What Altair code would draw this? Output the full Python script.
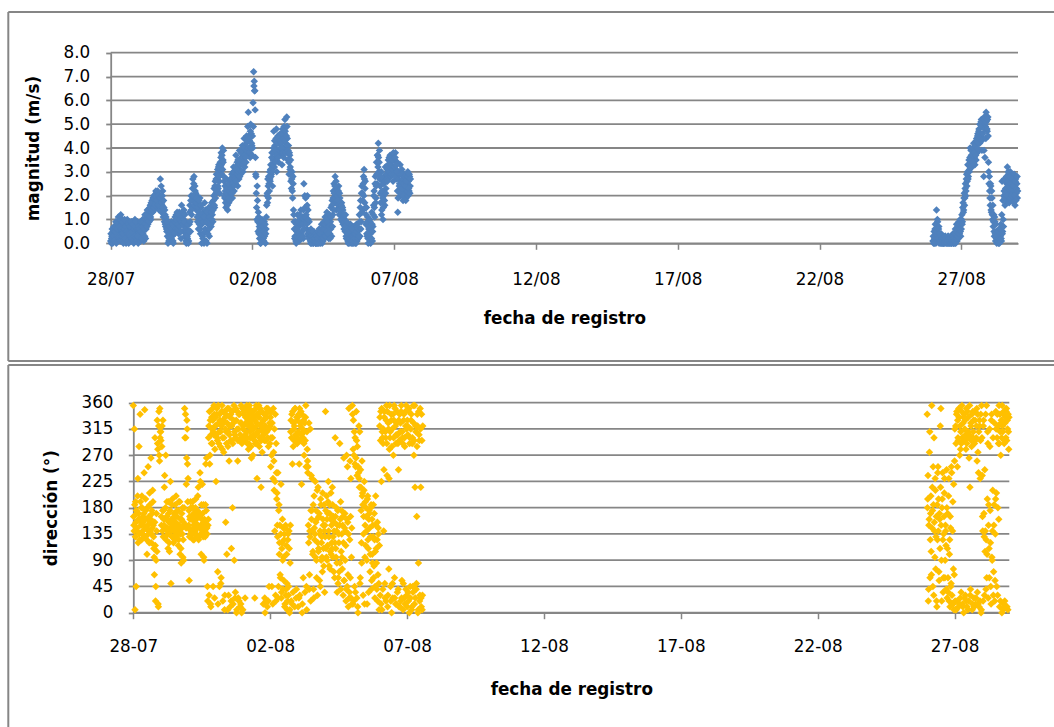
import altair as alt
import pandas as pd

# ---- wind magnitude (m/s), readings on the hour and half hour, one list per day ----
mag_0728 = [0.1,0.0,0.3,0.2,0.5,0.1, 0.4,0.7,0.2,0.6,0.3,0.8, 0.5,1.1,0.2,0.9,0.4,1.2, 0.7,0.1,1.0,0.5,0.8,0.2,
            0.9,0.4,0.0,0.7,1.0,0.3, 0.6,0.9,0.2,0.8,0.1,0.5, 0.9,0.3,0.7,0.0,0.6,1.0, 0.4,0.8,0.2,0.9,0.5,0.1]
mag_0729 = [0.3,0.8,0.1,0.6,0.9,0.4, 1.0,0.5,0.1,0.7,1.2,0.2, 0.6,1.1,1.4,0.8,1.3,0.9, 1.2,1.6,1.0,1.5,1.8,1.3,
            1.7,2.0,1.4,1.9,1.6,2.1, 1.5,1.9,2.1,1.7,1.4,2.0, 2.7,1.8,1.3,1.6,2.2,1.1, 1.5,0.9,1.2,0.7,1.0,0.5]
mag_0730 = [0.3,0.0,0.6,0.2,0.8,0.1, 0.5,0.9,0.3,0.7,0.0,0.4, 0.8,1.1,0.5,1.2,0.9,0.6, 1.0,0.4,1.3,0.8,1.1,0.2,
            1.6,0.9,1.2,0.5,1.4,0.7, 0.3,0.9,0.0,0.6,0.2,0.4, 0.1,0.8,1.6,0.5,2.0,1.2, 1.8,2.7,1.5,2.8,1.9,2.2]
mag_0731 = [2.1,1.4,2.0,0.9,1.6,1.2, 0.8,1.9,0.4,1.5,0.0,1.1, 0.2,1.3,0.0,1.7,0.6,1.0, 0.5,0.0,1.2,0.8,1.5,0.3,
            1.0,1.4,0.7,1.7,1.2,0.9, 1.8,2.3,1.5,2.6,2.1,2.9, 2.7,3.1,2.3,3.3,2.6,3.0, 3.2,3.8,2.9,4.0,3.5,3.9]
mag_0801 = [2.6,1.9,2.2,1.5,2.7,1.8, 1.4,2.1,1.7,2.4,2.0,2.6, 2.3,2.9,1.9,2.6,3.2,2.2, 3.0,2.5,3.7,2.8,3.4,2.4,
            3.3,2.7,3.9,3.1,2.9,3.6, 3.5,4.1,3.0,3.8,4.4,3.2, 4.0,3.4,4.5,3.7,4.9,5.5, 3.9,4.3,3.6,5.0,4.6,4.1]
mag_0802 = [4.5,5.9,7.2,6.8,6.4,3.6, 2.8,1.5,2.4,0.9,1.3,0.4, 0.2,0.8,0.0,0.5,1.0,0.3, 0.7,0.1,0.9,0.4,0.0,0.6,
            1.6,2.1,2.7,1.9,2.5,3.0, 2.6,3.3,2.9,3.8,2.4,3.5, 4.7,3.2,4.1,3.6,4.4,3.0, 3.9,4.5,3.4,4.2,3.7,4.6]
mag_0803 = [3.8,4.4,3.3,4.8,4.0,3.6, 4.6,5.2,4.2,3.9,5.3,4.4, 3.5,4.1,2.9,3.7,3.2,2.6, 2.3,3.0,1.9,2.5,1.2,0.6,
            0.3,0.9,0.0,0.5,1.2,0.2, 0.7,0.1,1.0,0.4,1.4,0.8, 0.5,1.1,0.2,2.5,0.9,1.5, 1.9,1.2,0.6,2.0,1.4,0.3]
mag_0804 = [0.9,0.4,0.1,0.6,0.0,0.3, 0.2,0.0,0.5,0.1,0.3,0.0, 0.0,0.4,0.1,0.0,0.2,0.6, 0.1,0.0,0.3,0.8,0.0,0.2,
            0.5,0.9,0.2,1.1,0.4,0.7, 1.3,0.6,1.0,0.2,0.8,0.4, 0.9,1.5,0.3,1.8,1.2,2.2, 2.5,1.7,2.8,2.0,1.4,2.3]
mag_0805 = [2.0,1.6,2.4,1.2,1.9,1.5, 1.3,1.7,0.9,1.4,1.1,0.6, 1.0,0.5,0.8,0.2,0.7,0.4, 0.0,0.3,0.6,0.1,0.8,0.0,
            0.4,0.0,0.2,0.7,0.1,0.5, 0.0,0.3,0.8,0.1,0.5,0.2, 0.6,1.2,0.3,1.8,0.9,2.4, 2.1,1.4,2.8,3.1,1.7,2.6]
mag_0806 = [0.8,1.5,0.3,1.1,0.0,0.6, 0.2,0.9,0.0,0.5,1.3,0.1, 0.7,1.6,2.2,1.1,2.8,1.9, 3.4,2.5,3.7,4.2,3.0,3.9,
            2.4,1.7,3.0,1.4,2.6,1.0, 2.0,2.8,1.6,3.2,2.3,2.9, 3.1,2.7,3.5,2.9,3.3,3.7, 2.8,3.4,3.0,3.6,2.6,3.2]
mag_0807 = [3.5,2.9,3.8,3.1,2.7,3.4, 1.3,2.2,3.0,2.5,3.3,2.0, 2.6,3.1,2.2,1.8,2.9,2.4, 2.1,2.7,1.9,2.5,2.3,3.0,
            2.6,2.2,2.8,2.4]
mag_0826 = [0.1,0.0,0.5,0.2,0.8,0.0, 1.4,0.6,0.9,0.3,0.7,0.1, 0.2,0.0,0.4,0.1,0.0,0.3, 0.0,0.2,0.1,0.3,0.0,0.1,
            0.2,0.0,0.3,0.1,0.0,0.2, 0.1,0.3,0.0,0.2,0.4,0.0, 0.3,0.0,0.6,0.2,0.8,0.1, 0.5,0.2,0.9,0.4,1.0,0.3]
mag_0827 = [0.6,1.2,0.9,1.7,1.4,2.1, 1.9,2.5,2.2,2.9,2.6,3.3, 2.8,3.5,3.1,4.0,3.4,3.7, 3.2,3.9,3.5,4.2,3.6,3.3,
            4.1,3.5,4.4,3.8,4.6,3.9, 4.8,4.2,5.0,4.5,5.2,3.9, 5.1,4.4,2.8,5.3,3.6,4.9, 5.5,5.2,4.7,5.3,3.4,2.5]
mag_0828 = [2.2,1.6,2.4,1.3,1.9,1.0, 0.7,1.2,0.3,0.9,0.1,0.5, 0.0,0.4,0.2,0.0,0.6,0.1, 0.3,0.8,0.1,2.6,0.5,1.0,
            2.0,2.7,1.6,2.3,1.8,2.5, 3.2,2.1,2.9,1.7,2.4,3.0, 1.8,2.6,2.2,1.9,2.8,2.0, 2.4,1.6,2.7,2.1,2.5,1.9]

# ---- wind magnitude (m/s), readings at quarter past / quarter to ----
magq_0728 = [0.4,0.2,0.6,0.0,0.3,0.7, 0.1,0.5,0.9,0.0,0.6,0.3, 0.8,0.3,0.7,1.0,0.1,0.6, 0.3,0.9,0.4,0.0,0.6,1.0,
             0.2,0.7,0.5,0.1,0.4,0.8, 0.0,0.4,0.7,0.3,0.9,0.2, 0.5,0.8,0.1,0.6,0.3,0.7, 0.9,0.1,0.6,0.3,0.0,0.7]
magq_0729 = [0.6,0.1,0.5,0.9,0.2,0.7, 0.4,0.9,0.6,0.3,0.8,1.0, 1.2,0.7,1.0,1.4,0.9,1.1, 1.5,1.1,1.7,1.3,1.4,1.9,
             1.9,1.5,2.0,1.6,2.2,1.7, 1.8,2.2,1.6,2.0,1.9,1.6, 1.9,2.4,1.7,2.0,1.5,1.8, 1.2,1.4,0.8,1.1,0.6,0.9]
magq_0730 = [0.6,0.3,0.1,0.7,0.4,0.5, 0.2,0.6,0.8,0.1,0.5,0.7, 0.4,0.9,1.0,0.6,1.3,0.8, 0.6,1.2,0.7,1.0,0.5,0.9,
             1.1,1.3,0.8,1.0,0.9,1.2, 0.6,0.1,0.5,0.3,0.8,0.0, 0.5,1.3,0.9,1.8,1.4,2.0, 2.3,2.0,2.5,1.6,2.4,1.7]
magq_0731 = [1.7,1.9,1.1,1.5,0.6,1.8, 1.3,0.6,1.6,1.0,0.8,0.3, 0.9,0.4,1.1,0.5,1.4,0.1, 0.9,1.3,0.4,1.0,0.6,1.1,
             1.5,0.8,1.3,1.0,1.6,1.4, 2.0,1.6,2.4,1.9,2.7,2.2, 2.9,2.4,3.2,2.8,2.1,3.4, 3.6,3.3,3.7,3.1,3.4,2.8]
magq_0801 = [2.0,2.4,1.7,2.1,2.3,1.6, 1.9,2.5,2.2,1.8,2.7,2.3, 2.7,2.1,2.5,3.0,2.4,2.8, 2.7,3.2,2.6,3.1,2.9,3.5,
             3.0,3.5,2.8,3.3,3.8,3.0, 3.9,3.3,3.6,4.0,3.4,3.7, 3.6,4.2,3.9,4.3,4.0,4.5, 4.4,3.8,4.7,4.0,4.2,3.7]
magq_0802 = [4.0,4.9,6.6,6.4,5.6,2.9, 2.1,1.0,1.8,0.5,1.1,0.7, 0.6,0.0,0.4,0.9,0.2,0.7, 0.2,0.5,0.3,0.8,0.4,1.1,
             2.0,1.7,2.4,2.8,2.2,2.7, 3.1,2.8,3.6,3.0,3.3,4.0, 3.8,4.3,3.4,3.9,4.8,3.7, 4.2,3.6,4.4,3.9,4.3,4.0]
magq_0803 = [4.2,4.0,4.6,3.8,4.4,4.9, 4.3,4.7,3.8,4.5,4.9,4.1, 3.9,3.4,3.8,3.1,3.5,2.9, 2.7,2.2,2.8,1.4,0.9,0.2,
             0.6,0.1,0.8,0.3,0.6,0.9, 0.4,1.2,0.3,0.8,0.2,1.1, 0.8,0.3,1.4,0.6,2.0,1.1, 1.5,0.8,1.6,0.4,1.0,0.2]
magq_0804 = [0.5,0.2,0.0,0.3,0.1,0.5, 0.0,0.3,0.1,0.2,0.0,0.4, 0.3,0.0,0.2,0.5,0.0,0.3, 0.4,0.1,0.5,0.2,0.6,0.1,
             0.2,0.6,0.8,0.3,0.9,0.5, 0.9,1.1,0.4,0.7,1.2,0.2, 0.6,1.1,1.6,0.7,1.9,1.4, 2.1,2.4,1.9,2.6,1.8,2.0]
magq_0805 = [1.8,2.2,1.4,2.1,1.7,1.0, 1.6,1.0,1.5,0.8,1.2,0.9, 0.7,1.2,0.3,0.9,0.5,0.1, 0.4,0.0,0.2,0.5,0.1,0.3,
             0.1,0.6,0.3,0.0,0.4,0.2, 0.4,0.0,0.5,0.7,0.2,0.6, 0.3,0.9,1.5,0.6,2.1,1.3, 1.8,2.5,2.0,2.7,2.3,1.5]
magq_0806 = [1.2,0.4,0.9,0.2,0.7,0.3, 1.0,0.4,0.7,0.2,0.8,0.5, 1.2,2.0,1.5,2.5,1.7,2.4, 2.9,3.7,3.2,3.6,3.4,2.7,
             2.1,2.8,1.2,2.2,1.9,1.5, 2.5,1.8,2.6,2.1,2.9,2.7, 2.6,3.3,3.0,3.6,3.2,2.8, 3.3,2.9,3.5,3.1,3.8,2.9]
magq_0807 = [3.2,3.6,2.8,3.3,3.0,2.2, 1.9,2.7,2.4,2.9,2.1,2.6, 2.9,2.3,2.7,2.0,2.5,2.8, 2.4,1.8,2.6,2.2,2.8,2.0,
             2.3,2.9,2.1,2.7]
magq_0826 = [0.3,0.1,0.0,0.6,0.2,0.4, 0.5,1.0,0.2,0.6,0.0,0.4, 0.1,0.3,0.0,0.2,0.1,0.0, 0.2,0.0,0.3,0.1,0.2,0.0,
             0.1,0.3,0.0,0.2,0.1,0.0, 0.2,0.0,0.1,0.3,0.0,0.2, 0.1,0.4,0.0,0.5,0.2,0.3, 0.7,0.4,0.6,0.8,0.5,0.9]
magq_0827 = [1.0,0.8,1.5,1.3,1.9,1.6, 2.3,2.0,2.7,2.4,3.0,2.7, 3.3,3.0,3.6,3.2,3.9,3.5, 3.7,3.4,4.0,3.3,3.8,4.1,
             3.7,4.3,4.0,4.5,4.2,4.7, 4.4,5.0,4.6,5.1,4.3,4.9, 4.6,5.2,3.9,4.8,5.0,4.4, 5.1,4.8,5.2,4.5,3.0,2.8]
magq_0828 = [1.9,2.5,1.4,2.2,1.2,1.6, 0.9,0.5,1.1,0.4,0.8,0.2, 0.3,0.1,0.5,0.2,0.0,0.4, 0.6,0.2,1.2,0.4,1.8,0.7,
             2.2,1.9,2.6,2.1,2.8,2.0, 2.6,3.0,2.3,2.8,1.9,2.5, 2.3,2.0,2.7,2.4,1.7,2.9, 2.0,2.6,1.8,2.3,2.8,2.2]

# ---- wind direction (degrees), readings on the hour and half hour ----
dir_0728 = [355,150,315,5,190,45, 170,140,230,160,285,125, 340,155,180,200,135,165, 150,240,348,130,175,145,
            100,160,250,140,120,185, 155,265,135,170,210,150, 110,65,300,20,90,140, 330,280,10,345,260,300]
dir_0729 = [310,165,285,140,330,175, 150,235,130,270,160,190, 145,110,170,120,155,225, 50,140,185,160,130,150,
            165,125,145,200,135,175, 150,115,190,140,100,160, 85,170,135,95,155,180, 350,150,300,220,330,255]
dir_0730 = [230,150,55,165,135,180, 140,160,190,125,170,145, 155,180,135,165,145,200, 215,130,170,240,150,100,
            160,220,140,185,90,155, 130,255,175,145,45,150, 300,30,255,330,10,290, 315,350,45,305,340,280]
dir_0731 = [320,225,340,300,70,355, 290,45,330,310,60,345, 280,20,325,300,5,335, 155,310,100,350,285,30,
            260,320,10,340,110,295, 180,15,330,90,305,35, 350,0,315,260,25,340, 295,10,325,355,0,300]
dir_0801 = [5,320,345,300,25,335, 310,355,290,330,280,350, 340,300,325,265,315,345, 270,305,335,25,290,350,
            320,230,340,310,355,285, 300,345,215,325,275,310, 15,330,295,0,340,20, 310,10,350,285,45,325]
dir_0802 = [320,250,345,45,300,230, 275,210,140,340,20,240, 205,130,25,175,100,150, 60,220,35,120,90,145,
            55,135,15,150,40,100, 5,125,30,140,0,85, 310,20,340,255,35,325, 295,10,350,300,40,330]
dir_0803 = [300,10,340,255,30,320, 345,220,0,315,60,290, 310,35,335,250,5,280, 240,150,325,65,130,20,
            235,175,140,105,40,200, 125,225,155,90,160,30, 215,110,170,135,45,185, 120,95,205,150,80,140]
dir_0804 = [150,345,110,200,90,170, 225,130,185,75,160,100, 120,215,95,165,140,60, 300,110,180,85,150,50,
            135,70,290,160,40,175, 95,150,30,265,55,170, 140,20,270,45,155,10, 350,35,260,165,25,145]
dir_0805 = [355,15,330,270,45,300, 250,345,25,285,0,240, 230,310,60,215,120,260, 205,30,165,225,95,190,
            180,140,15,200,110,160, 170,70,130,185,55,100, 150,185,80,125,45,200, 110,40,155,65,135,5]
dir_0806 = [320,30,345,225,5,300, 290,140,335,50,310,20, 355,235,10,325,75,280, 300,45,340,0,315,25,
            270,330,60,350,15,305, 325,35,290,245,10,340, 310,20,355,55,300,5, 330,25,285,345,40,315]
dir_0807 = [10,320,35,345,0,300, 25,330,5,290,45,355, 270,15,215,320,40,165, 340,0,85,305,20,350,
            215,10,295,30]
dir_0826 = [340,195,20,150,275,60, 170,105,355,215,45,185, 300,140,230,75,165,10, 125,250,195,55,160,320,
            350,90,180,240,35,135, 205,60,150,115,245,25, 170,35,230,100,10,145, 50,240,15,190,75,5]
dir_0827 = [260,20,320,5,345,250, 300,10,335,270,25,310, 290,355,15,325,0,340, 315,30,280,350,10,300,
            335,20,305,215,40,320, 285,5,345,310,25,290, 330,15,300,350,35,275, 240,10,320,230,340,5]
dir_0828 = [300,165,20,330,130,245, 140,40,355,100,310,25, 185,60,285,120,15,340, 90,210,30,150,325,55,
            195,315,45,340,180,290, 355,10,310,270,330,0, 320,5,345,290,20,335, 300,350,10,315,340,280]

# ---- wind direction (degrees), readings at quarter past / quarter to ----
dirq_0728 = [165,140,185,130,155,175, 145,200,120,170,135,160, 190,150,125,180,140,155, 170,130,160,195,145,125,
             180,150,135,165,205,140, 160,120,175,145,190,130, 95,155,115,45,170,105, 290,15,320,270,350,310]
dirq_0729 = [295,150,320,175,130,160, 215,145,180,125,165,140, 135,190,155,105,175,145, 160,130,195,150,120,170,
             140,185,155,130,165,145, 175,125,150,190,135,110, 160,145,180,125,90,150, 300,340,145,265,315,190]
dirq_0730 = [145,175,130,160,190,140, 165,135,180,150,125,170, 140,195,160,130,175,150, 125,165,145,225,135,185,
             150,170,130,95,160,140, 185,145,265,135,20,160, 320,345,270,15,305,335, 290,330,310,355,25,320]
dirq_0731 = [335,305,350,295,15,325, 310,340,285,50,320,355, 300,330,275,345,30,315, 340,290,325,5,310,350,
             305,335,295,20,320,345, 290,325,355,310,25,300, 330,5,345,295,315,20, 340,305,15,325,290,350]
dirq_0801 = [315,340,295,350,305,325, 335,300,345,320,290,355, 310,330,285,340,320,300, 345,315,295,330,305,355,
             325,290,340,310,335,300, 350,320,295,345,315,330, 305,340,25,320,295,350, 335,300,20,315,345,290]
dirq_0802 = [335,300,270,325,15,350, 260,315,225,30,290,195, 150,240,45,185,120,65, 135,25,110,160,40,95,
             125,10,145,30,115,50, 20,135,45,110,5,150, 330,300,15,345,285,315, 320,350,305,25,335,290]
dirq_0803 = [335,310,25,350,295,325, 305,340,15,300,330,270, 325,295,355,45,310,260, 250,120,40,140,315,175,
             160,230,100,185,25,145, 135,95,175,60,210,120, 105,165,55,140,195,90, 130,70,160,110,185,35]
dirq_0804 = [130,175,95,160,115,190, 140,80,170,105,205,150, 110,185,130,70,155,120, 165,95,140,35,175,60,
             120,150,85,190,105,135, 75,165,120,55,145,90, 115,40,160,250,65,135, 25,125,60,230,95,15]
dirq_0805 = [340,280,20,310,255,35, 265,295,235,10,250,320, 215,50,245,175,85,200, 185,135,210,15,150,115,
             165,90,195,125,35,175, 145,100,180,40,160,85, 130,60,170,25,105,150, 85,125,20,145,50,115]
dirq_0806 = [335,295,15,350,310,40, 315,245,345,25,300,330, 290,345,30,315,230,355, 310,20,330,285,50,340,
             300,355,25,320,290,15, 345,305,40,330,295,10, 325,345,25,310,290,50, 340,300,15,320,355,30]
dirq_0807 = [330,305,20,350,290,45, 315,340,10,300,35,325, 295,355,25,310,50,285, 320,5,345,295,30,315,
             25,340,5,320]
dirq_0826 = [180,235,40,160,310,125, 200,65,145,175,250,30, 155,95,210,130,20,185, 240,140,70,170,110,215,
             150,20,195,125,60,165, 230,90,140,40,180,110, 60,200,20,125,165,45, 250,30,140,15,220,65]
dirq_0827 = [315,5,290,340,20,330, 295,350,15,320,280,35, 345,300,10,335,295,25, 330,305,20,290,345,5,
             310,265,355,30,325,295, 340,15,300,330,10,345, 295,25,320,260,340,15, 310,330,20,295,0,355]
dirq_0828 = [235,140,320,170,30,105, 340,125,60,195,290,150, 110,315,175,45,330,95, 140,300,70,185,20,135,
             345,205,300,30,320,160, 290,340,20,325,300,355, 310,340,15,295,325,10, 345,295,330,5,310,335]

# start of each recording run (UTC)
run1_start = "2013-07-28 00:00"
run2_start = "2013-08-26 00:00"

mag_ticks = [0, 1, 2, 3, 4, 5, 6, 7, 8]
dir_ticks = [0, 45, 90, 135, 180, 225, 270, 315, 360]
date_ticks = [(7, 28), (8, 2), (8, 7), (8, 12), (8, 17), (8, 22), (8, 27)]

BLUE = "#4F81BD"
GOLD = "#FFC000"
GRID = "#868686"
FONT = "DejaVu Sans"

# page geometry (pixels)
W, H = 1054, 727
TOP_X = [110.7, 1018.0]
TOP_Y = [243.3, 52.7]
BOT_X = [133.3, 1009.3]
BOT_Y = [612.7, 402.7]


def run_frame(start, days, minute_shift=0):
    values = [v for day in days for v in day]
    t0 = pd.Timestamp(start, tz="UTC") + pd.Timedelta(minutes=minute_shift)
    stamps = [(t0 + pd.Timedelta(minutes=30 * i)).strftime("%Y-%m-%dT%H:%M:%SZ")
              for i in range(len(values))]
    return pd.DataFrame({"fecha": stamps, "valor": values})


mag_df = pd.concat([
    run_frame(run1_start, [mag_0728, mag_0729, mag_0730, mag_0731, mag_0801, mag_0802,
                           mag_0803, mag_0804, mag_0805, mag_0806, mag_0807]),
    run_frame(run1_start, [magq_0728, magq_0729, magq_0730, magq_0731, magq_0801, magq_0802,
                           magq_0803, magq_0804, magq_0805, magq_0806, magq_0807], 15),
    run_frame(run2_start, [mag_0826, mag_0827, mag_0828]),
    run_frame(run2_start, [magq_0826, magq_0827, magq_0828], 15),
], ignore_index=True)

dir_df = pd.concat([
    run_frame(run1_start, [dir_0728, dir_0729, dir_0730, dir_0731, dir_0801, dir_0802,
                           dir_0803, dir_0804, dir_0805, dir_0806, dir_0807]),
    run_frame(run1_start, [dirq_0728, dirq_0729, dirq_0730, dirq_0731, dirq_0801, dirq_0802,
                           dirq_0803, dirq_0804, dirq_0805, dirq_0806, dirq_0807], 15),
    run_frame(run2_start, [dir_0826, dir_0827, dir_0828]),
    run_frame(run2_start, [dirq_0826, dirq_0827, dirq_0828], 15),
], ignore_index=True)

x_domain = [alt.DateTime(year=2013, month=7, date=28, utc=True),
            alt.DateTime(year=2013, month=8, date=29, utc=True)]
x_values = [alt.DateTime(year=2013, month=m, date=d, utc=True) for m, d in date_ticks]


def x_axis(fmt, axis_y, label_pad, title_y):
    return alt.Axis(
        orient="bottom", offset=axis_y - H,
        values=x_values, labelExpr=f"utcFormat(datum.value, '{fmt}')",
        title="fecha de registro", grid=False, labelFlush=False, labelOverlap=False,
        domainColor=GRID, domainWidth=1.8, tickColor=GRID, tickWidth=1.5, tickSize=6,
        labelFont=FONT, labelFontSize=16.8, labelColor="black", labelPadding=label_pad,
        labelAngle=0, titleFont=FONT, titleFontSize=16.8, titleFontWeight="bold",
        titleColor="black", titleY=title_y, titleBaseline="middle",
    )


def y_axis(title, ticks, fmt, axis_x, label_pad, title_x):
    return alt.Axis(
        orient="left", offset=-axis_x,
        values=ticks, format=fmt, title=title, grid=False,
        domainColor=GRID, domainWidth=1.8, tickColor=GRID, tickWidth=1.8, tickSize=5,
        labelFont=FONT, labelFontSize=16.8, labelColor="black", labelPadding=label_pad,
        titleFont=FONT, titleFontSize=16.8, titleFontWeight="bold", titleColor="black",
        titleX=title_x, titleBaseline="middle",
    )


one_row = pd.DataFrame({"k": [0]})


def vline(x, y1, y2):
    return alt.Chart(one_row).mark_rule(color=GRID, strokeWidth=2).encode(
        x=alt.value(x), y=alt.value(y1), y2=alt.value(y2))


def hline(y, x1, x2):
    return alt.Chart(one_row).mark_rule(color=GRID, strokeWidth=2).encode(
        y=alt.value(y), x=alt.value(x1), x2=alt.value(x2))


def grid_lines(ticks, y_scale, x_range):
    return alt.Chart(pd.DataFrame({"v": ticks})).mark_rule(color=GRID, strokeWidth=1.8).encode(
        y=alt.Y("v:Q", scale=y_scale, axis=None),
        x=alt.value(x_range[0]), x2=alt.value(x_range[1]),
    )


# upper panel: magnitude
top_y_scale = alt.Scale(domain=[0, 8], range=TOP_Y, nice=False)
top_points = alt.Chart(mag_df).mark_point(
    shape="diamond", filled=True, size=56, opacity=1, color=BLUE
).encode(
    x=alt.X("fecha:T", scale=alt.Scale(type="utc", domain=x_domain, range=TOP_X),
            axis=x_axis("%d/%m", TOP_Y[0], 22, 75.5)),
    y=alt.Y("valor:Q", scale=top_y_scale,
            axis=y_axis("magnitud (m/s)", mag_ticks, ".1f", TOP_X[0], 16, -77)),
)

# lower panel: direction
bot_y_scale = alt.Scale(domain=[0, 360], range=BOT_Y, nice=False)
bot_points = alt.Chart(dir_df).mark_point(
    shape="diamond", filled=True, size=56, opacity=1, color=GOLD
).encode(
    x=alt.X("fecha:T", scale=alt.Scale(type="utc", domain=x_domain, range=BOT_X),
            axis=x_axis("%d-%m", BOT_Y[0], 19.6, 77)),
    y=alt.Y("valor:Q", scale=bot_y_scale,
            axis=y_axis("dirección (°)", dir_ticks, "d", BOT_X[0], 15.3, -82.3)),
)

# panel frames
frames = [
    vline(8.3, 12, 361), hline(12, 8.3, W), hline(361, 8.3, W),
    vline(8.3, 365, H), hline(365, 8.3, W),
]

chart = alt.layer(
    grid_lines(mag_ticks, top_y_scale, TOP_X),
    grid_lines(dir_ticks, bot_y_scale, BOT_X),
    *frames,
    top_points,
    bot_points,
).resolve_scale(
    x="independent", y="independent"
).resolve_axis(
    x="independent", y="independent"
).properties(
    width=W, height=H, padding=0, background="white",
    autosize=alt.AutoSizeParams(type="none"),
).configure_view(stroke="transparent")

chart.save("out.html", embed_options={"renderer": "svg", "actions": False})
